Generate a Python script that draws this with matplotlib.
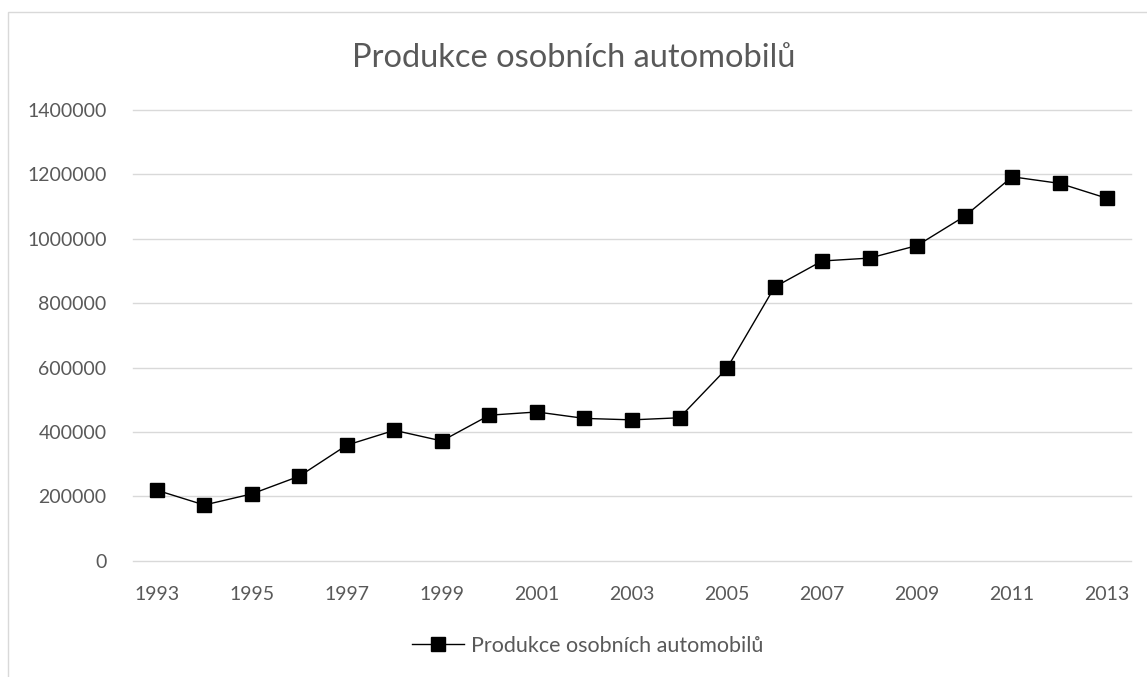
import matplotlib
matplotlib.use("Agg")
import matplotlib.pyplot as plt
from matplotlib.patches import Rectangle

# Production of passenger cars
years = list(range(1993, 2014))
production = [219000, 173000, 207500, 262500, 359000, 405000, 372000,
              452000, 462000, 442000, 437500, 444000, 598000, 850000,
              931000, 940000, 979000, 1070000, 1192500, 1172000, 1125500]
title = "Produkce osobních automobilů"
yticks = [0, 200000, 400000, 600000, 800000, 1000000, 1200000, 1400000]
xtick_years = years[::2]

txt = "#595959"
grid = "#d9d9d9"
plt.rcParams['font.family'] = ['Lato', 'DejaVu Sans']

fig = plt.figure(figsize=(11.47, 6.77), dpi=100)
ax = fig.add_axes([133/1147, 116.3/677, (1131-133)/1147, (560.7-110)/677])

ax.plot(years, production, color="black", lw=1.0, marker="s",
        markersize=10.5, label=title, zorder=3)

ax.set_xlim(years[0] - 0.5, years[-1] + 0.5)
ax.set_ylim(0, 1400000)
ax.set_yticks(yticks)
ax.set_yticklabels([str(v) for v in yticks])
ax.set_xticks(xtick_years)
ax.set_xticklabels([str(y) for y in xtick_years])
ax.grid(axis="y", color=grid, lw=1.0)
for gl in ax.get_ygridlines():
    gl.set_clip_on(False)
ax.set_axisbelow(True)
for s in ax.spines.values():
    s.set_visible(False)
ax.tick_params(length=0, labelsize=14, colors=txt)
ax.tick_params(axis="y", pad=19)
ax.tick_params(axis="x", pad=18)

fig.text(0.5, 1 - 58/677, title, ha="center", va="center",
         fontsize=23.5, color=txt)

leg = ax.legend(loc="center", bbox_to_anchor=(587.5/1147, 31.3/677),
                bbox_transform=fig.transFigure, frameon=False,
                fontsize=15.5, handlelength=2.42, handletextpad=0.33,
                labelcolor=txt)

# light chart border (right/bottom cropped off in the original)
fig.patches.append(Rectangle((8/1147, -0.1), 1.2, 1 - 12/677 + 0.1,
                             transform=fig.transFigure, fill=False,
                             edgecolor=grid, lw=1.0))

fig.savefig("out.png", dpi=100)
